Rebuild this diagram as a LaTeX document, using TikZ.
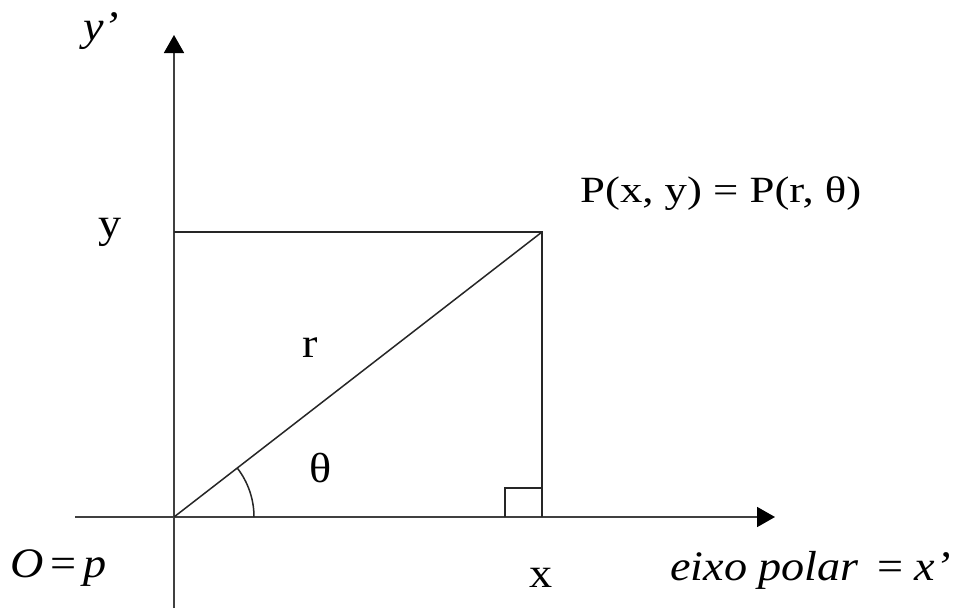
\documentclass[tikz,border=0pt]{standalone}
\usepackage{fontspec}
\setmainfont{Liberation Serif}
\newfontfamily\widefont[FakeStretch=1.1]{Liberation Serif}
\newfontfamily\widerfont[FakeStretch=1.21]{Liberation Serif}
\usetikzlibrary{arrows.meta}
\tikzset{
  axis/.style={line width=1.8pt, draw=black!75, -{Triangle[length=18pt,width=20pt,fill=black,color=black]}},
  thin line/.style={line width=1.5pt, draw=black!85},
  biglabel/.style={font=\widefont\fontsize{42}{48}\selectfont, inner sep=0pt},
  ptlabel/.style={font=\widerfont\fontsize{37}{44}\selectfont, inner sep=0pt},
}
\begin{document}
\begin{tikzpicture}[x=1pt,y=-1pt]
\path[use as bounding box, fill=white] (0,0) rectangle (956,614);
\coordinate (O) at (174,517);
\coordinate (P) at (542,232);
\coordinate (Y) at (174,232);
\coordinate (X) at (542,517);
\coordinate (ytop) at (174,35);
\coordinate (ybot) at (174,608);
\coordinate (xleft) at (75,517);
\coordinate (xright) at (775,517);
\coordinate (sqa) at (505,517);
\coordinate (sqb) at (505,488);
\coordinate (sqc) at (542,488);
\draw[axis] (ybot) -- (ytop);
\draw[axis] (xleft) -- (xright);
\draw[thin line] (Y) -- (P) -- (X);
\draw[thin line] (O) -- (P);
\draw[thin line] (sqa) -- (sqb) -- (sqc);
\draw[thin line] ([xshift=80pt]O) arc[start angle=0, end angle=37.9, radius=80pt];
\node[biglabel, anchor=base west] (lyp) at (83,40) {\itshape y’};
\node[biglabel, anchor=base] (ly) at (110,237) {y};
\node[biglabel, anchor=base] (lr) at (310,357) {r};
\node[biglabel, anchor=base] (lth) at (321,482) {θ};
\node[biglabel, anchor=base] (lx) at (541,587) {x};
\node[biglabel, anchor=base west] (lO) at (10,577) {{\itshape O}\,=\,{\itshape p}};
\node[biglabel, anchor=base west] (lpol) at (670,580) {{\itshape eixo polar}\, = {\itshape x’}};
\node[ptlabel, anchor=base west] (lP) at (580,202) {P(x, y) = P(r, θ)};
\end{tikzpicture}
\end{document}
